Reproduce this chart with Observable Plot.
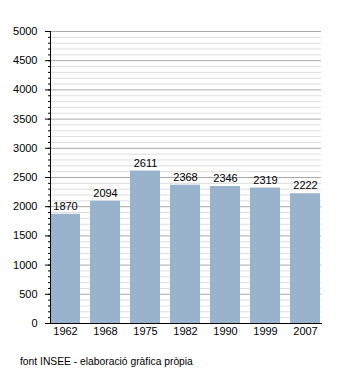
<!DOCTYPE html>
<html>
<head>
<meta charset="utf-8">
<script src="https://cdn.jsdelivr.net/npm/d3@7"></script>
<script src="https://cdn.jsdelivr.net/npm/@observablehq/plot@0.6"></script>
<style>
  html, body { margin: 0; padding: 0; background: #fff; }
  #wrap { position: relative; width: 350px; height: 373px; font-family: "Liberation Sans", Arial, sans-serif; }
  #caption { position: absolute; left: 20px; top: 356px; font-size: 10.3px; color: #000; white-space: nowrap; }
</style>
</head>
<body>
<div id="wrap"><div id="chart"></div><div id="caption">font INSEE - elaboració gràfica pròpia</div></div>
<script>
const years = ["1962", "1968", "1975", "1982", "1990", "1999", "2007"];
const values = [1870, 2094, 2611, 2368, 2346, 2319, 2222];
const majorTicks = d3.range(0, 5001, 500);
const minorTicks = d3.range(0, 5001, 100);

const data = years.map((y, i) => ({year: y, value: values[i]}));

const chart = Plot.plot({
  width: 350,
  height: 345,
  marginLeft: 50,
  marginRight: 29,
  marginTop: 31,
  marginBottom: 22,
  style: {fontFamily: "'Liberation Sans', Arial, sans-serif", fontSize: "11px", background: "#fff", color: "#000"},
  x: {domain: years, paddingInner: 0.24, paddingOuter: 0, label: null},
  y: {domain: [0, 5000], label: null},
  marks: [
    Plot.ruleY(minorTicks.filter(v => v % 500 !== 0), {stroke: "#dddddd", strokeOpacity: 1}),
    Plot.ruleY(majorTicks, {stroke: "#aaaaaa", strokeOpacity: 1}),
    Plot.barY(data, {x: "year", y: "value", fill: "#9ab3cc"}),
    Plot.text(data, {x: "year", y: "value", text: d => String(d.value), dy: -8, fontSize: 11, fill: "#000"}),
    Plot.axisY({ticks: minorTicks, tickSize: 2, text: null, stroke: "#000", strokeOpacity: 1}),
    Plot.axisY({ticks: majorTicks, tickSize: 5, tickPadding: 8, tickFormat: d => String(d), stroke: "#000", strokeOpacity: 1, fill: "#000", fontSize: 11}),
    Plot.axisX({tickSize: 0, tickPadding: 4, fill: "#000", fontSize: 11}),
    Plot.frame({anchor: "left", stroke: "#000", strokeOpacity: 1}),
    Plot.frame({anchor: "bottom", stroke: "#000", strokeOpacity: 1})
  ]
});
document.getElementById("chart").appendChild(chart);
</script>
</body>
</html>
